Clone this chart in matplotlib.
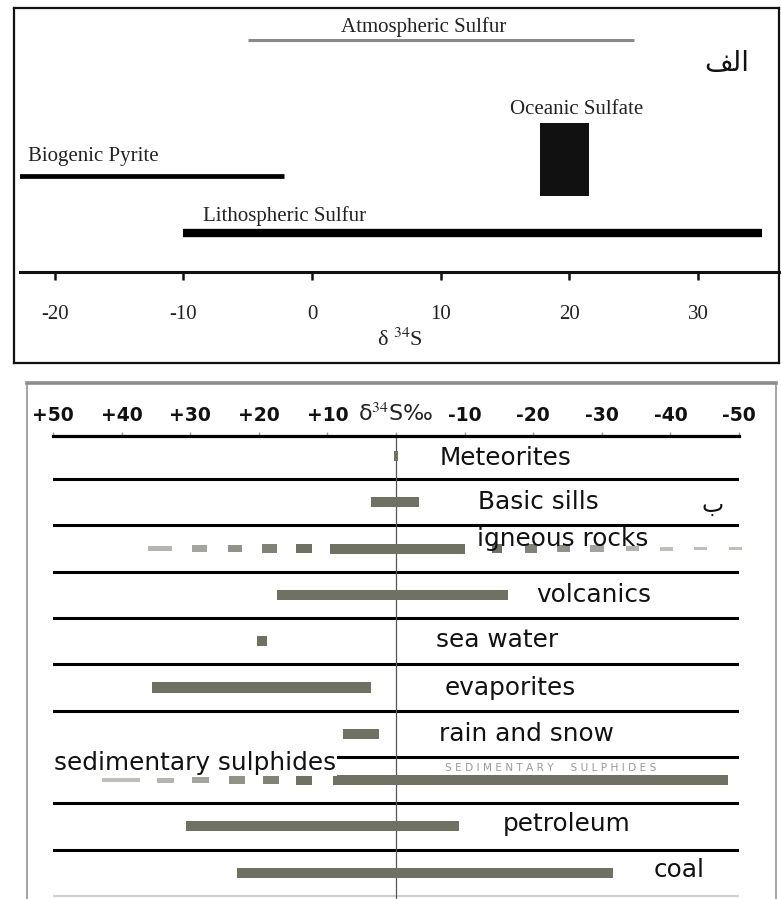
import numpy as np
import matplotlib
matplotlib.use('Agg')
import matplotlib.pyplot as plt

plt.rcParams['mathtext.fontset'] = 'stix'

W, H = 781, 899

# ---- panel a (top): ranges of d34S, per mil
src_names = ['Atmospheric Sulfur', 'Biogenic Pyrite', 'Lithospheric Sulfur']
src_lo = [-5.0, -22.8, -10.0]
src_hi = [25.0, -2.2, 35.0]
ocean_lo, ocean_hi = 17.7, 21.5
top_ticks = [-20, -10, 0, 10, 20, 30]

# ---- panel b (bottom): ranges of d34S, per mil
names = ['Meteorites', 'Basic sills', 'igneous rocks', 'volcanics', 'sea water',
         'evaporites', 'rain and snow', 'sedimentary sulphides', 'petroleum', 'coal']
hi = [0.3, 3.6, 9.6, 17.4, 20.3, 35.6, 7.7, 9.2, 30.6, 23.2]
lo = [-0.3, -3.4, -10.1, -16.3, 18.8, 3.6, 2.5, -48.4, -9.2, -31.6]
igneous_left = [(36.2, 32.7), (29.7, 27.6), (24.5, 22.4), (19.5, 17.3), (14.6, 12.2)]
igneous_right = [(-14.0, -15.5), (-18.8, -20.6), (-23.5, -25.4), (-28.3, -30.3),
                 (-33.5, -35.4), (-38.5, -40.4), (-43.4, -45.3), (-48.5, -50.4)]
sed_left = [(42.9, 37.3), (34.8, 32.4), (29.7, 27.3), (24.3, 22.0), (19.4, 17.1), (14.6, 12.2)]
bot_ticks = [50, 40, 30, 20, 10, 0, -10, -20, -30, -40, -50]
bot_ticklabels = ['+50', '+40', '+30', '+20', '+10', 'δ$^{34}$S‰',
                  '-10', '-20', '-30', '-40', '-50']

# layout
src_y = [40, 176, 233]
src_lw = [2.2, 3.4, 6.0]
src_col = ['#8a8a8a', 'black', 'black']
src_lab = [(8.7, 27, 'center'), (-22.1, 157, 'left'), (-8.5, 216, 'left')]
lab_x = [-6.4, -12.0, -11.8, -20.4, -5.8, -7.1, -6.3, 49.9, -15.6, -37.6]
lab_dy = [0.05, 0.0, -0.21, 0.0, -0.03, 0.0, 0.0, -0.37, -0.05, -0.05]
bar_col = '#6f7163'
serif = 'Liberation Serif'

fig = plt.figure(figsize=(W / 100, H / 100), dpi=100)


def px_axes(x0, y0, x1, y1):
    return fig.add_axes([x0 / W, 1 - y1 / H, (x1 - x0) / W, (y1 - y0) / H])


# ================= top panel =================
fa = px_axes(14, 8, 779, 363)
fa.set_xticks([]); fa.set_yticks([])
for s in fa.spines.values():
    s.set_linewidth(1.6)
    s.set_color('#111')

ax = px_axes(20, 8, 779, 272)
ax.patch.set_alpha(0)
ax.set_xlim((20 - 312) / 12.87, (779 - 312) / 12.87)
ax.set_ylim(272, 8)
for k in ['left', 'right', 'top']:
    ax.spines[k].set_visible(False)
ax.spines['bottom'].set_linewidth(2.2)
ax.spines['bottom'].set_color('#111')
ax.set_yticks([])
ax.set_xticks(top_ticks)
ax.set_xticklabels([str(t) for t in top_ticks], fontfamily=serif, fontsize=15, color='#222')
ax.tick_params(axis='x', direction='out', length=6, width=1.8, pad=18, color='#111')

for i in range(len(src_names)):
    ax.hlines(src_y[i], src_lo[i], src_hi[i], color=src_col[i], lw=src_lw[i])
    lx, ly, ha = src_lab[i]
    ax.text(lx, ly, src_names[i], ha=ha, va='center', fontfamily=serif, fontsize=15, color='#222')

ax.bar([(ocean_lo + ocean_hi) / 2], [196 - 123], bottom=123, width=ocean_hi - ocean_lo,
       color='#111')
ax.text(20.6, 110, 'Oceanic Sulfate', ha='center', va='center', fontfamily=serif,
        fontsize=15, color='#222')
ax.text(32.2, 63, '\ufed2\ufedf\ufe8d', ha='center', va='center',
        fontfamily='DejaVu Sans', fontsize=20, color='#111')

ax.set_xlabel('δ $^{34}$S', fontfamily=serif, fontsize=16, color='#222', labelpad=3)

# ================= bottom panel =================
fb = px_axes(27, 383, 776, 910)
fb.set_xticks([]); fb.set_yticks([])
fb.spines['bottom'].set_visible(False)
fb.spines['top'].set_linewidth(2.6)
fb.spines['top'].set_color('#8c8c8c')
for k in ['left', 'right']:
    fb.spines[k].set_linewidth(1.1)
    fb.spines[k].set_color('#8c8c8c')

bx = px_axes(53, 436, 739, 899)
bx.patch.set_alpha(0)
bx.set_xlim(50, -50)
bx.set_ylim(9.568, -0.432)
for k in ['left', 'right', 'bottom']:
    bx.spines[k].set_visible(False)
bx.spines['top'].set_linewidth(2.3)
bx.spines['top'].set_color('black')
bx.set_yticks([])
bx.xaxis.tick_top()
bx.set_xticks(bot_ticks)
bx.set_xticklabels(bot_ticklabels)
bx.tick_params(axis='x', direction='out', length=3, width=1, color='#999', pad=5)
for t, lab in zip(bx.get_xticklabels(), bot_ticklabels):
    if lab.startswith('δ'):
        t.set_fontsize(16)
        t.set_color('#222')
    else:
        t.set_fontsize(13.5)
        t.set_fontweight('bold')
        t.set_color('#111')

rows = np.arange(len(names))
for r in rows[:-1]:
    bx.axhline(r + 0.5, color='black', lw=2.2, zorder=1)
bx.axhline(rows[-1] + 0.5, color='#d0d0d0', lw=1.5, zorder=1)
bx.axvline(0, color='#555555', lw=0.9, zorder=1)

bar_h = 0.22
bx.barh(rows, np.array(hi) - np.array(lo), left=lo, height=bar_h, color=bar_col, zorder=2)


def dashes(segs, row, near_first):
    n = len(segs)
    for j, (a, b) in enumerate(segs):
        k = j if near_first else n - 1 - j
        h = bar_h * (0.95 - 0.11 * k)
        h = max(h, 0.06)
        c = plt.matplotlib.colors.to_rgb(bar_col)
        f = min(0.12 * k, 0.55)
        c = tuple(ci + (1 - ci) * f for ci in c)
        bx.barh(row, b - a, left=a, height=h, color=c, zorder=2, clip_on=False)


dashes(igneous_left, names.index('igneous rocks'), False)
dashes(igneous_right, names.index('igneous rocks'), True)
dashes(sed_left, names.index('sedimentary sulphides'), False)

for i, nm in enumerate(names):
    kw = {}
    if nm == 'sedimentary sulphides':
        kw['bbox'] = dict(fc='white', ec='none', pad=0.5)
    bx.text(lab_x[i], rows[i] + lab_dy[i], nm, ha='left', va='center',
            fontfamily='DejaVu Sans', fontsize=17.8, color='#111', zorder=4, **kw)

bx.text(-22.6, 6.74, 'S E D I M E N T A R Y     S U L P H I D E S', ha='center', va='center',
        fontfamily='DejaVu Sans', fontsize=7.6, color='#9a9a9a', zorder=3)
bx.text(-46.2, 1.06, '\u0628', ha='center', va='center', fontfamily='DejaVu Sans',
        fontsize=17, color='#111', zorder=4)

fig.savefig('out.png', dpi=100)
